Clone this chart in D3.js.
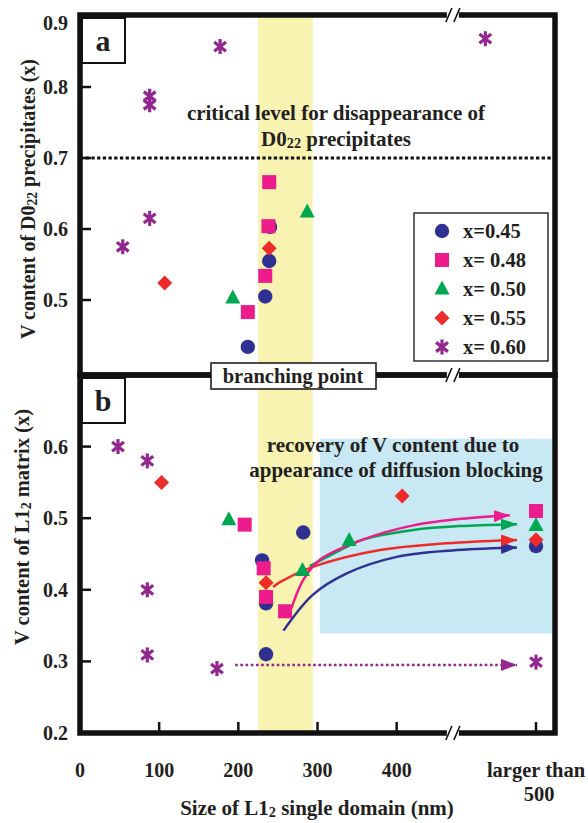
<!DOCTYPE html>
<html>
<head>
<meta charset="utf-8">
<script src="https://cdn.jsdelivr.net/npm/d3@7"></script>
<style>
  html, body { margin: 0; padding: 0; background: #fff; }
  svg text { font-family: "Liberation Serif", "Times New Roman", serif; font-weight: bold; fill: #231f20; }
</style>
</head>
<body>
<svg id="chart" width="588" height="823"></svg>
<script>
// ---------------- DATA ----------------
const seriesLabels = ["x=0.45", "x= 0.48", "x= 0.50", "x= 0.55", "x= 0.60"];
const seriesColors = ["#2e3192", "#ec1c8c", "#00a651", "#ee2b2b", "#92278f"];
const seriesShapes = ["circle", "square", "triangle", "diamond", "asterisk"];

// panel a: [domain size (nm), V content of D022 precipitates]
const panelA_045 = [[212, 0.434], [234, 0.505], [239, 0.555], [240, 0.603]];
const panelA_048 = [[212, 0.483], [234, 0.534], [238, 0.604], [239, 0.666]];
const panelA_050 = [[193, 0.503], [287, 0.624]];
const panelA_055 = [[107, 0.524], [239, 0.573]];
const panelA_060 = [[54, 0.575], [88, 0.615], [88, 0.775], [88, 0.787], [177, 0.857], [512, 0.868]];

// panel b: [domain size (nm) or ">500", V content of L12 matrix]
const panelB_045 = [[230, 0.441], [235, 0.381], [235, 0.31], [282, 0.48], [">500", 0.461]];
const panelB_048 = [[208, 0.491], [232, 0.43], [235, 0.39], [259, 0.37], [">500", 0.51]];
const panelB_050 = [[188, 0.498], [281, 0.427], [340, 0.469], [">500", 0.49]];
const panelB_055 = [[103, 0.55], [235, 0.41], [407, 0.531], [">500", 0.47]];
const panelB_060 = [[48, 0.60], [85, 0.58], [85, 0.40], [85, 0.309], [173, 0.29], [">500", 0.299]];

// trend arrows in panel b (data units)
const trend_045 = [[257, 0.343], [294, 0.393], [337, 0.423], [400, 0.446], [470, 0.455], [552, 0.459]];
const trend_048 = [[267, 0.374], [282, 0.414], [303, 0.442], [357, 0.470], [421, 0.490], [490, 0.500], [543, 0.504]];
const trend_050 = [[290, 0.433], [337, 0.460], [357, 0.470], [421, 0.4835], [480, 0.489], [552, 0.4915]];
const trend_055 = [[244, 0.404], [253, 0.411], [294, 0.432], [379, 0.4556], [463, 0.465], [552, 0.4696]];
const trend_060 = [[196, 0.295], [552, 0.295]];

const xTicks = [0, 100, 200, 300, 400];
const xLargeLabel = ["larger than", "500"];
const xLargePos = 576;           // axis position of the "larger than 500" category
const xBreakPos = 471;           // axis break position
const yTicksA = [0.5, 0.6, 0.7, 0.8, 0.9];
const yTicksB = [0.2, 0.3, 0.4, 0.5, 0.6];
const criticalLevel = 0.7;
const branchingBand = [225, 294];
const recoveryRegion = { x0: 303, x1: 600, y0: 0.339, y1: 0.611 };

// ---------------- SCALES ----------------
const svg = d3.select("#chart");
const L = 80, R = 555, TA = 15, MID = 375, BB = 733;
const x = d3.scaleLinear().domain([0, 600]).range([L, R]);
const ya = d3.scaleLinear().domain([0.3944, 0.9]).range([MID, 16]);
const yb = d3.scaleLinear().domain([0.2, 0.7]).range([BB, MID]);
const xp = v => v === ">500" ? x(xLargePos) : x(v);

// ---------------- BACKGROUND REGIONS ----------------
svg.append("rect")
  .attr("x", x(branchingBand[0])).attr("y", TA)
  .attr("width", x(branchingBand[1]) - x(branchingBand[0])).attr("height", BB - TA)
  .attr("fill", "#f8f3b0");
svg.append("rect")
  .attr("x", x(recoveryRegion.x0)).attr("y", yb(recoveryRegion.y1))
  .attr("width", x(recoveryRegion.x1) - x(recoveryRegion.x0) - 3)
  .attr("height", yb(recoveryRegion.y0) - yb(recoveryRegion.y1))
  .attr("fill", "#c8e8f4");

// critical level dotted line
svg.append("line")
  .attr("x1", L).attr("x2", R).attr("y1", ya(criticalLevel)).attr("y2", ya(criticalLevel))
  .attr("stroke", "#111").attr("stroke-width", 3).attr("stroke-dasharray", "3.3,2.4");

// ---------------- SYMBOLS ----------------
function drawSymbol(g, shape, color, cx, cy, s) {
  s = s || 1;
  if (shape === "circle") {
    g.append("circle").attr("cx", cx).attr("cy", cy).attr("r", 7.2 * s).attr("fill", color);
  } else if (shape === "square") {
    const a = 14 * s;
    g.append("rect").attr("x", cx - a / 2).attr("y", cy - a / 2).attr("width", a).attr("height", a).attr("fill", color);
  } else if (shape === "triangle") {
    const h = 14 * s, w = 15 * s;
    g.append("path").attr("d", `M${cx},${cy - h * 0.6}L${cx + w / 2},${cy + h * 0.4}L${cx - w / 2},${cy + h * 0.4}Z`).attr("fill", color);
  } else if (shape === "diamond") {
    const r = 7.5 * s;
    g.append("path").attr("d", `M${cx},${cy - r}L${cx + r},${cy}L${cx},${cy + r}L${cx - r},${cy}Z`).attr("fill", color);
  } else if (shape === "asterisk") {
    const r = 7.5 * s;
    [90, 38, 142].forEach(a => {
      const rad = a * Math.PI / 180;
      g.append("line")
        .attr("x1", cx - r * Math.cos(rad)).attr("y1", cy - r * Math.sin(rad))
        .attr("x2", cx + r * Math.cos(rad)).attr("y2", cy + r * Math.sin(rad))
        .attr("stroke", color).attr("stroke-width", 3.2);
    });
  }
}

// ---------------- TREND ARROWS ----------------
const defs = svg.append("defs");
seriesColors.forEach((c, i) => {
  defs.append("marker").attr("id", "arr" + i)
    .attr("viewBox", "0 0 16 12").attr("refX", 16).attr("refY", 6)
    .attr("markerWidth", 16).attr("markerHeight", 12)
    .attr("markerUnits", "userSpaceOnUse").attr("orient", "auto")
    .append("path").attr("d", "M0,0L16,6L0,12Z").attr("fill", c);
});
const lineB = d3.line().x(d => xp(d[0])).y(d => yb(d[1])).curve(d3.curveCatmullRom.alpha(0.5));
const trends = [trend_045, trend_055, trend_050, trend_048];
const trendIdx = [0, 3, 2, 1];
trends.forEach((t, k) => {
  const i = trendIdx[k];
  svg.append("path").attr("d", lineB(t)).attr("fill", "none")
    .attr("stroke", seriesColors[i]).attr("stroke-width", 2.5)
    .attr("marker-end", `url(#arr${i})`);
});
svg.append("path").attr("d", d3.line().x(d => xp(d[0])).y(d => yb(d[1]))(trend_060))
  .attr("fill", "none").attr("stroke", seriesColors[4]).attr("stroke-width", 2.5)
  .attr("stroke-dasharray", "2.6,2.6").attr("marker-end", "url(#arr4)");

// ---------------- POINTS ----------------
const panelA = [panelA_045, panelA_048, panelA_050, panelA_055, panelA_060];
const panelB = [panelB_045, panelB_048, panelB_050, panelB_055, panelB_060];
const pts = svg.append("g");
panelA.forEach((ser, i) => ser.forEach(d => drawSymbol(pts, seriesShapes[i], seriesColors[i], xp(d[0]), ya(d[1]))));
panelB.forEach((ser, i) => ser.forEach(d => drawSymbol(pts, seriesShapes[i], seriesColors[i], xp(d[0]), yb(d[1]))));

// ---------------- FRAMES ----------------
const frame = svg.append("g");
frame.append("rect").attr("x", L).attr("y", TA).attr("width", R - L).attr("height", MID - TA)
  .attr("fill", "none").attr("stroke", "#111").attr("stroke-width", 5.5);
frame.append("rect").attr("x", L).attr("y", MID).attr("width", R - L).attr("height", BB - MID)
  .attr("fill", "none").attr("stroke", "#111").attr("stroke-width", 5.5);

// y ticks (inward)
yTicksA.filter(v => v > 0.45 && v < 0.9).forEach(v => {
  frame.append("line").attr("x1", L).attr("x2", L + 11).attr("y1", ya(v)).attr("y2", ya(v)).attr("stroke", "#111").attr("stroke-width", 2.5);
});
yTicksB.filter(v => v > 0.2).forEach(v => {
  frame.append("line").attr("x1", L).attr("x2", L + 11).attr("y1", yb(v)).attr("y2", yb(v)).attr("stroke", "#111").attr("stroke-width", 2.5);
});
// x ticks (inward)
xTicks.filter(v => v > 0).concat([">500"]).forEach(v => {
  frame.append("line").attr("x1", xp(v)).attr("x2", xp(v)).attr("y1", BB).attr("y2", BB - 11).attr("stroke", "#111").attr("stroke-width", 2.5);
});

// axis breaks
[TA, MID, BB].forEach(yy => {
  const bx = x(xBreakPos);
  frame.append("rect").attr("x", bx - 6).attr("y", yy - 4).attr("width", 12).attr("height", 8).attr("fill", "#fff");
  [-4, 4].forEach(o => {
    frame.append("line").attr("x1", bx + o - 3).attr("y1", yy + 7).attr("x2", bx + o + 3).attr("y2", yy - 7)
      .attr("stroke", "#111").attr("stroke-width", 1.6);
  });
});

// ---------------- TEXT ----------------
// tick labels
yTicksA.forEach(v => {
  svg.append("text").attr("x", 68).attr("y", v === 0.9 ? ya(v) + 7 : ya(v)).attr("dy", "0.35em")
    .attr("text-anchor", "end").attr("font-size", 20).text(v.toFixed(1));
});
yTicksB.forEach(v => {
  svg.append("text").attr("x", 68).attr("y", yb(v)).attr("dy", "0.35em")
    .attr("text-anchor", "end").attr("font-size", 20).text(v.toFixed(1));
});
xTicks.forEach(v => {
  svg.append("text").attr("x", x(v)).attr("y", 777).attr("text-anchor", "middle").attr("font-size", 20).text(v);
});
xLargeLabel.forEach((t, i) => {
  svg.append("text").attr("x", xp(">500") + (i === 1 ? 3 : 0)).attr("y", 777 + i * 24)
    .attr("text-anchor", "middle").attr("font-size", 20.5).text(t);
});

// axis titles
const subText = (sel, parts, fs) => {
  parts.forEach(p => {
    if (p.sub) sel.append("tspan").attr("font-size", fs * 0.68).attr("dy", 1.5).text(p.t);
    else sel.append("tspan").attr("font-size", fs).attr("dy", p.after ? -1.5 : 0).text(p.t);
  });
};
const xt = svg.append("text").attr("x", 317).attr("y", 815).attr("text-anchor", "middle").attr("font-size", 21);
subText(xt, [{ t: "Size of L1" }, { t: "2", sub: true }, { t: " single domain (nm)", after: true }], 21);

const yta = svg.append("text").attr("transform", "translate(35,199) rotate(-90)").attr("text-anchor", "middle").attr("font-size", 20);
subText(yta, [{ t: "V content of D0" }, { t: "22", sub: true }, { t: " precipitates (x)", after: true }], 20);

const ytb = svg.append("text").attr("transform", "translate(29,527) rotate(-90)").attr("text-anchor", "middle").attr("font-size", 20.5);
subText(ytb, [{ t: "V content of L1" }, { t: "2", sub: true }, { t: " matrix (x)", after: true }], 20.5);

// annotation panel a
svg.append("text").attr("x", 336).attr("y", 120).attr("text-anchor", "middle").attr("font-size", 21)
  .text("critical level for disappearance of");
const ann2 = svg.append("text").attr("x", 336).attr("y", 146).attr("text-anchor", "middle").attr("font-size", 21);
subText(ann2, [{ t: "D0" }, { t: "22", sub: true }, { t: " precipitates", after: true }], 21);

// annotation panel b
svg.append("text").attr("x", 393).attr("y", 452).attr("text-anchor", "middle").attr("font-size", 21)
  .text("recovery of V content due to");
svg.append("text").attr("x", 396).attr("y", 477).attr("text-anchor", "middle").attr("font-size", 21)
  .text("appearance of diffusion blocking");

// panel labels
[["a", TA + 3], ["b", MID + 3]].forEach(([t, yy]) => {
  svg.append("rect").attr("x", L + 2).attr("y", yy).attr("width", 43).attr("height", 45)
    .attr("fill", "#fff").attr("stroke", "#111").attr("stroke-width", 2);
  svg.append("text").attr("x", L + 23).attr("y", yy + 33).attr("text-anchor", "middle").attr("font-size", 30).text(t);
});

// branching point box
svg.append("rect").attr("x", 211).attr("y", 363).attr("width", 165).attr("height", 26)
  .attr("fill", "#fff").attr("stroke", "#111").attr("stroke-width", 1.5);
svg.append("text").attr("x", 293).attr("y", 383).attr("text-anchor", "middle").attr("font-size", 20.5).text("branching point");

// legend
const lg = svg.append("g");
lg.append("rect").attr("x", 414).attr("y", 213).attr("width", 134).attr("height", 148)
  .attr("fill", "#fff").attr("stroke", "#111").attr("stroke-width", 1.3);
seriesLabels.forEach((lab, i) => {
  const yy = 231 + i * 29;
  drawSymbol(lg, seriesShapes[i], seriesColors[i], 442, yy, 1);
  lg.append("text").attr("x", 463).attr("y", yy).attr("dy", "0.35em").attr("font-size", 20.5).text(lab);
});
</script>
</body>
</html>
